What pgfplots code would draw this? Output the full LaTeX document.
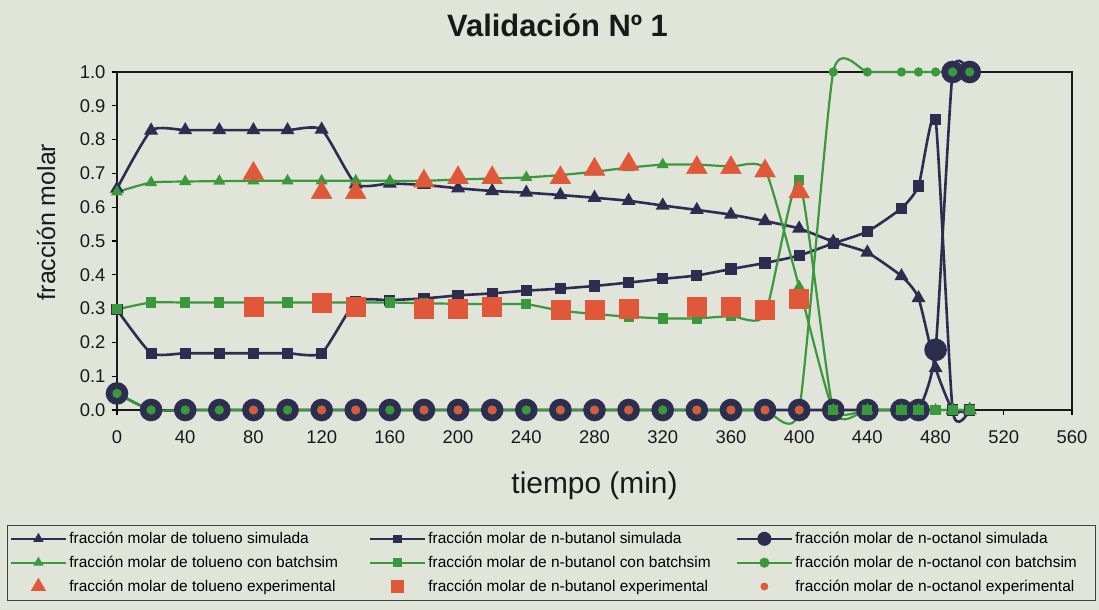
\documentclass[border=0pt]{standalone}
\usepackage{fontspec}
\setmainfont{Liberation Sans}
\usepackage{pgfplots}
\pgfplotsset{compat=1.18}
\definecolor{bg}{HTML}{E0E4D9}
\definecolor{navy}{HTML}{2D2D50}
\definecolor{grn}{HTML}{3C983C}
\definecolor{redo}{HTML}{E0573A}

\pgfplotstableread{
t tsim bsim osim
0 0.655 0.297 0.049
20 0.827 0.168 0
40 0.828 0.168 0
60 0.828 0.168 0
80 0.828 0.168 0
100 0.828 0.168 0
120 0.830 0.168 0
140 0.668 0.320 0
160 0.670 0.325 0
180 0.666 0.330 0
200 0.656 0.339 0
220 0.648 0.345 0
240 0.643 0.353 0
260 0.636 0.359 0
280 0.628 0.367 0
300 0.619 0.377 0
320 0.605 0.388 0
340 0.592 0.398 0
360 0.578 0.417 0
380 0.559 0.435 0
400 0.537 0.457 0
420 0.498 0.493 0
440 0.466 0.528 0
460 0.396 0.597 0
470 0.331 0.663 0
480 0.124 0.860 0.178
490 0 0 1.0
500 0 0 1.0
}\simtab

\pgfplotstableread{
t tbat bbat obat
0 0.645 0.298 0.049
20 0.673 0.318 0
40 0.676 0.318 0
60 0.677 0.318 0
80 0.678 0.318 0
100 0.678 0.318 0
120 0.678 0.318 0
140 0.678 0.318 0
160 0.678 0.318 0
180 0.678 0.316 0
200 0.682 0.314 0
220 0.685 0.313 0
240 0.688 0.313 0
260 0.695 0.294 0
280 0.705 0.284 0
300 0.717 0.276 0
320 0.726 0.271 0
340 0.726 0.271 0
360 0.720 0.278 0
380 0.712 0.281 0
400 0.365 0.680 0
420 0 0 1.0
440 0 0 1.0
460 0 0 1.0
470 0 0 1.0
480 0 0 1.0
490 0 0 1.0
500 0 0 1.0
}\battab

\pgfplotstableread{
t texp bexp oexp
80 0.700 0.306 0
120 0.643 0.316 0
140 0.643 0.306 0
180 0.677 0.301 0
200 0.687 0.301 0
220 0.687 0.306 0
260 0.687 0.298 0
280 0.712 0.296 0
300 0.727 0.301 0
340 0.717 0.306 0
360 0.717 0.306 0
380 0.707 0.297 0
400 0.645 0.330 0
}\exptab

\begin{document}
\begin{tikzpicture}
\fill[bg] (-117bp,-200bp) rectangle (982bp,410bp);
\begin{axis}[
  scale only axis, width=955bp, height=338bp,
  xmin=0, xmax=560, ymin=0, ymax=1,
  clip=false,
  xtick={0,40,80,120,160,200,240,280,320,360,400,440,480,520,560},
  ytick={0,0.1,0.2,0.3,0.4,0.5,0.6,0.7,0.8,0.9,1},
  /pgf/number format/assume math mode=true,
  tick label style={font=\fontsize{18.5}{20}\selectfont, black!90},
  xticklabel style={yshift=-12bp},
  yticklabel style={xshift=-3bp, /pgf/number format/.cd, fixed, fixed zerofill, precision=1},
  tick align=outside, tick pos=left,
  major tick length=5bp,
  tick style={line width=1.2bp, black},
  axis line style={line width=1.4bp, black!90},
  title={Validación Nº 1},
  title style={at={(0.4613,1.0866)}, anchor=base, font=\bfseries\fontsize{31}{34}\selectfont, black!90},
  xlabel={tiempo (min)},
  xlabel style={at={(0.5,-0.2456)}, anchor=base, font=\fontsize{30}{32}\selectfont, black!90},
  ylabel={fracción molar},
  ylabel style={at={(-0.0649,0.5562)}, anchor=base, font=\fontsize{25}{28}\selectfont, black!90},
  legend columns=3,
  legend cell align=left,
  legend style={at={(-0.11518,-0.34024)}, anchor=north west, fill=bg, draw=black!75,
    line width=0.8bp, font=\fontsize{15.5}{17}\selectfont, inner xsep=3bp, inner ysep=5bp,
    row sep=7bp},
  legend image code/.code={\draw[mark repeat=2,mark phase=2,#1] plot coordinates {(0bp,0bp) (27bp,0bp) (55bp,0bp)};},
]
\addplot[navy, line width=2.6bp, smooth, tension=0.33, mark=triangle*, mark size=5.5bp, mark options={solid},
  legend image post style={line width=2bp, mark size=4bp}] table[x=t,y=tsim] {\simtab};
\addlegendentry{\makebox[298bp][l]{fracción molar de tolueno simulada}}
\addplot[navy, line width=2.6bp, smooth, tension=0.33, mark=square*, mark size=4.3bp, mark options={solid},
  legend image post style={line width=2bp, mark size=3.3bp}] table[x=t,y=bsim] {\simtab};
\addlegendentry{\makebox[306bp][l]{fracción molar de n-butanol simulada}}
\addplot[navy, line width=2.6bp, smooth, tension=0.33, mark=*, mark size=10bp, mark options={solid},
  legend image post style={line width=2bp, mark size=6bp}] table[x=t,y=osim] {\simtab};
\addlegendentry{\makebox[295bp][l]{fracción molar de n-octanol simulada}}
\addplot[grn, line width=2.2bp, smooth, tension=0.33, mark=triangle*, mark size=4.8bp, mark options={solid},
  legend image post style={line width=2bp, mark size=4bp}] table[x=t,y=tbat] {\battab};
\addlegendentry{fracción molar de tolueno con batchsim}
\addplot[grn, line width=2.2bp, smooth, tension=0.33, mark=square*, mark size=4bp, mark options={solid},
  legend image post style={line width=2bp, mark size=3.2bp}] table[x=t,y=bbat] {\battab};
\addlegendentry{fracción molar de n-butanol con batchsim}
\addplot[grn, line width=2.2bp, smooth, tension=0.33, mark=*, mark size=3.5bp, mark options={solid},
  legend image post style={line width=2bp, mark size=4bp}] table[x=t,y=obat] {\battab};
\addlegendentry{fracción molar de n-octanol con batchsim}
\addplot[redo, only marks, mark=triangle*, mark size=12bp,
  legend image post style={mark size=8bp}] table[x=t,y=texp] {\exptab};
\addlegendentry{fracción molar de tolueno experimental}
\addplot[redo, only marks, mark=square*, mark size=9.5bp,
  legend image post style={mark size=6bp}] table[x=t,y=bexp] {\exptab};
\addlegendentry{fracción molar de n-butanol experimental}
\addplot[redo, only marks, mark=*, mark size=4bp,
  legend image post style={mark size=3.5bp}] table[x=t,y=oexp] {\exptab};
\addlegendentry{fracción molar de n-octanol experimental}
\end{axis}
\pgfresetboundingbox
\path[use as bounding box] (-117bp,-200bp) rectangle (982bp,410bp);
\end{tikzpicture}
\end{document}
